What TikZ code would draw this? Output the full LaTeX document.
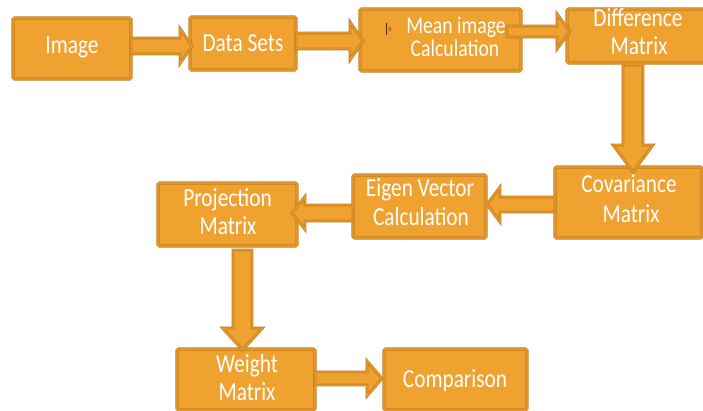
\documentclass[tikz,border=0pt]{standalone}
\usepackage{fontspec}
\setmainfont{Carlito}[FakeStretch=0.82]
\usetikzlibrary{calc}
\definecolor{boxfill}{RGB}{240,162,48}
\definecolor{boxline}{RGB}{194,126,30}
\tikzset{
  box/.style={draw=boxline, line width=0.9pt, double=boxfill, double distance=1.3pt,
    fill=boxfill, rounded corners=1.5pt, inner sep=0pt, outer sep=0pt},
  barrow/.style={draw=boxline, line width=0.9pt, double=boxfill, double distance=1pt,
    fill=boxfill, line join=miter},
  lbl/.style={text=white, font=\fontsize{26}{28}\selectfont, anchor=base, inner sep=0pt},
  lblsmall/.style={lbl, font=\fontsize{24}{26}\selectfont},
}
% horizontal block arrow: start, tip, shaft half width, head half width, signed head length
\newcommand\blockH[5]{%
  \draw[barrow] let \p1=(#1), \p2=(#2) in
    ({\x1},{\y1+#3}) -- ({\x2-(#5)},{\y1+#3}) -- ({\x2-(#5)},{\y1+#4}) -- ({\x2},{\y1})
    -- ({\x2-(#5)},{\y1-#4}) -- ({\x2-(#5)},{\y1-#3}) -- ({\x1},{\y1-#3}) -- cycle;}
% downward block arrow
\newcommand\blockV[5]{%
  \draw[barrow] let \p1=(#1), \p2=(#2) in
    ({\x1-#3},{\y1}) -- ({\x1-#3},{\y2+#5}) -- ({\x1-#4},{\y2+#5}) -- ({\x1},{\y2})
    -- ({\x1+#4},{\y2+#5}) -- ({\x1+#3},{\y2+#5}) -- ({\x1+#3},{\y1}) -- cycle;}
\begin{document}
\begin{tikzpicture}[x=1pt,y=-1pt]
\useasboundingbox (0,0) rectangle (703,411);
\clip (0,0) rectangle (703,411);
% boxes
\node[box, minimum width=118pt, minimum height=61pt] (img) at (72,48.5) {};
\node[box, minimum width=106pt, minimum height=53pt] (dat) at (243,43.5) {};
\node[box, minimum width=161pt, minimum height=62pt] (mean) at (440.5,40) {};
\node[box, minimum width=145pt, minimum height=54pt] (diff) at (639.5,36) {};
\node[box, minimum width=147pt, minimum height=71pt] (cov) at (628.5,202.5) {};
\node[box, minimum width=133pt, minimum height=63pt] (eig) at (419.5,206.5) {};
\node[box, minimum width=139pt, minimum height=63pt] (prj) at (227.5,214.5) {};
\node[box, minimum width=138pt, minimum height=61pt] (wgt) at (246,379.5) {};
\node[box, minimum width=143pt, minimum height=61pt] (cmp) at (455.5,379.5) {};
% stray mark in the mean box
\draw[black!70!boxfill, line width=0.8pt] (386,23) -- (386,35);
\fill[boxline!80!red] (388.5,26) -- (392,29) -- (388.5,32) -- cycle;
% block arrows
\blockH{img.east |- 0,46}{$(dat.west |- 0,46)+(2,0)$}{8pt}{17.5pt}{12pt}
\blockH{dat.east |- 0,41}{$(mean.west |- 0,41)+(3,0)$}{8pt}{19pt}{13pt}
\blockH{$(mean.east |- 0,31.5)+(-14,0)$}{$(diff.west |- 0,31.5)+(3,0)$}{5.5pt}{17.5pt}{13pt}
\blockV{$(diff.south -| 633,0)+(0,2)$}{$(cov.north -| 633,0)+(0,5)$}{10pt}{20pt}{27pt}
\blockH{cov.west |- 0,204.5}{$(eig.east |- 0,204.5)+(1,0)$}{7.5pt}{17.5pt}{-13pt}
\blockH{eig.west |- 0,213}{$(prj.east |- 0,213)+(-5,0)$}{8pt}{16.5pt}{-13pt}
\blockV{$(prj.south -| 242.5,0)+(0,4)$}{$(wgt.north -| 242.5,0)+(0,1)$}{9.5pt}{20pt}{22pt}
\blockH{wgt.east |- 0,378.5}{$(cmp.west |- 0,378.5)+(-2,0)$}{6.5pt}{17.5pt}{15pt}
% labels
\node[lbl] (imgT) at (72,54) {Image};
\node[lbl] (datT) at (243,52) {Data Sets};
\node[lblsmall] (meanT1) at (456,33.5) {Mean image};
\node[lblsmall] (meanT2) at (455,56.5) {Calculation};
\node[lbl] (diffT1) at (638,27) {Difference};
\node[lbl] (diffT2) at (639,55) {Matrix};
\node[lbl] (covT1) at (629,193) {Covariance};
\node[lbl] (covT2) at (631,223) {Matrix};
\node[lbl] (eigT1) at (420,197) {Eigen Vector};
\node[lbl] (eigT2) at (421,226) {Calculation};
\node[lbl] (prjT1) at (227.5,207) {Projection};
\node[lbl] (prjT2) at (228,235) {Matrix};
\node[lbl] (wgtT1) at (247,372) {Weight};
\node[lbl] (wgtT2) at (247,400) {Matrix};
\node[lbl] (cmpT) at (455,387) {Comparison};
\end{tikzpicture}
\end{document}
